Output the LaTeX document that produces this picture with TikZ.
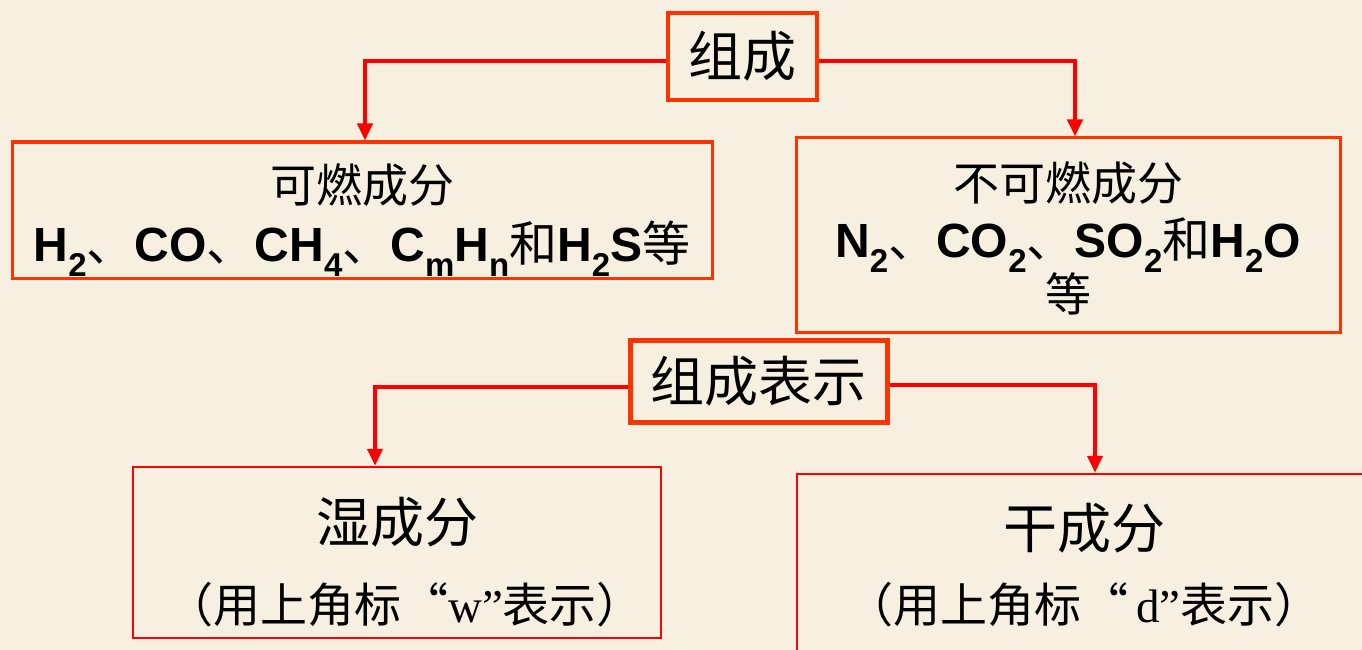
\documentclass[tikz,border=0pt]{standalone}
\usepackage{fontspec}
\setmainfont{Liberation Sans}
\newfontfamily\cjk{Noto Sans CJK SC}
\newfontfamily\ser{Liberation Serif}
\usetikzlibrary{arrows.meta}
\definecolor{bg}{HTML}{F7F0E1}
\definecolor{obox}{HTML}{FF3300}
\definecolor{rline}{HTML}{FF0000}
\newcommand{\sbs}[1]{\raisebox{-0.32em}{\fontsize{33}{33}\selectfont #1}}
\begin{document}
\begin{tikzpicture}[x=1pt,y=-1pt,
  tbox/.style={draw=obox, line width=4.5pt, inner sep=0pt},
  cbox/.style={draw=obox, line width=3pt, inner sep=0pt},
  rbox/.style={draw=rline, line width=2.5pt, inner sep=0pt},
  arr/.style={draw=rline, line width=4pt, -{Triangle[width=15pt,length=17pt]}},
  txt/.style={inner sep=0pt, anchor=base},
  big/.style={font=\cjk\fontsize{54}{54}\selectfont},
  mid/.style={font=\cjk\fontsize{46}{46}\selectfont},
  frm/.style={font=\bfseries\fontsize{48}{48}\selectfont},
  par/.style={font=\cjk\fontsize{47}{47}\selectfont}]
\fill[bg] (0,0) rectangle (1362,650);
\useasboundingbox (0,0) rectangle (1362,650);

% top level
\node[tbox, minimum width=149pt, minimum height=87pt, big] (zc) at (742.5,56.5) {组成};

\node[cbox, minimum width=700pt, minimum height=136pt] (kr) at (362,210) {};
\node[txt, mid] (k1) at (362,202) {可燃成分};
\node[txt, frm] (k2) at (362,261) {H\sbs{2}{\cjk\mdseries 、}CO{\cjk\mdseries 、}CH\sbs{4}{\cjk\mdseries 、}C\sbs{m}H\sbs{n}{\cjk\mdseries 和}H\sbs{2}S{\cjk\mdseries 等}};

\node[cbox, minimum width=544pt, minimum height=194pt] (bk) at (1068,235) {};
\node[txt, mid] (b1) at (1068,200) {不可燃成分};
\node[txt, frm] (b2) at (1068,257) {N\sbs{2}{\cjk\mdseries 、}CO\sbs{2}{\cjk\mdseries 、}SO\sbs{2}{\cjk\mdseries 和}H\sbs{2}O};
\node[txt, mid] (b3) at (1068,311) {等};

\draw[arr] ([yshift=-5pt]zc.west) -| ([xshift=3pt]kr.north);
\draw[arr] ([yshift=-5pt]zc.east) -| ([xshift=7pt]bk.north);

% second level
\node[tbox, line width=5pt, minimum width=257pt, minimum height=82pt, big] (zs) at (758.5,381) {组成表示};

\node[rbox, minimum width=528pt, minimum height=171pt] (wet) at (397,552.5) {};
\node[txt, big] (w1) at (397,542) {湿成分};
\node[txt, par] (w2) at (405,622) {（用上角标“{\ser w”}表示）};

\node[rbox, minimum width=600pt, minimum height=206pt] (dry) at (1097,577) {};
\node[txt, big] (d1) at (1084,548) {干成分};
\node[txt, par] (d2) at (1084,622) {（用上角标“{\ser\,d”}表示）};

\draw[arr] ([yshift=-6pt]zs.west) -| ([xshift=-22pt]wet.north);
\draw[arr] ([yshift=-4pt]zs.east) -| ([xshift=-2pt]dry.north);
\end{tikzpicture}
\end{document}
